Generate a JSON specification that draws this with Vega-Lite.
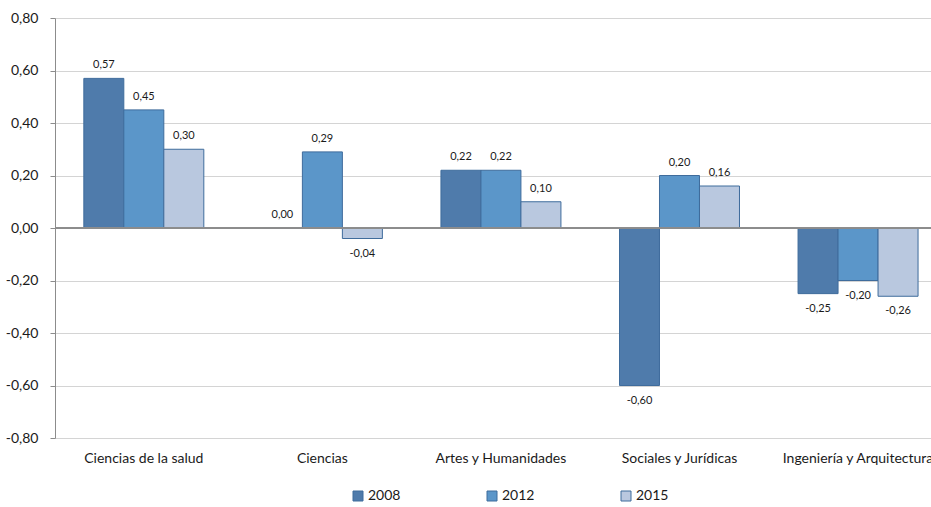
{
  "$schema": "https://vega.github.io/schema/vega-lite/v6.json",
  "width": 876,
  "height": 420,
  "autosize": {"type": "none"},
  "padding": {"left": 55, "top": 18, "right": 0, "bottom": 69},
  "background": "white",
  "config": {
    "locale": {"number": {"decimal": ",", "thousands": ".", "grouping": [3], "currency": ["", " €"], "minus": "-"}},
    "font": "Lato",
    "view": {"stroke": null},
    "axis": {"labelFont": "Lato", "labelColor": "#1a1a1a"}
  },
  "data": {
    "values": [
      {"area": "Ciencias de la salud", "year": "2008", "value": 0.57},
      {"area": "Ciencias de la salud", "year": "2012", "value": 0.45},
      {"area": "Ciencias de la salud", "year": "2015", "value": 0.30},
      {"area": "Ciencias", "year": "2008", "value": 0.00},
      {"area": "Ciencias", "year": "2012", "value": 0.29},
      {"area": "Ciencias", "year": "2015", "value": -0.04},
      {"area": "Artes y Humanidades", "year": "2008", "value": 0.22},
      {"area": "Artes y Humanidades", "year": "2012", "value": 0.22},
      {"area": "Artes y Humanidades", "year": "2015", "value": 0.10},
      {"area": "Sociales y Jurídicas", "year": "2008", "value": -0.60},
      {"area": "Sociales y Jurídicas", "year": "2012", "value": 0.20},
      {"area": "Sociales y Jurídicas", "year": "2015", "value": 0.16},
      {"area": "Ingeniería y Arquitectura", "year": "2008", "value": -0.25},
      {"area": "Ingeniería y Arquitectura", "year": "2012", "value": -0.20},
      {"area": "Ingeniería y Arquitectura", "year": "2015", "value": -0.26}
    ]
  },
  "encoding": {
    "x": {
      "field": "area", "type": "nominal", "sort": null, "title": null,
      "scale": {"paddingInner": 0.328, "paddingOuter": 0.117, "align": 0.69},
      "axis": {"labelAngle": 0, "domain": false, "ticks": false, "labelPadding": 13, "labelFontSize": 14, "labelLimit": 300, "labelOverlap": false}
    },
    "xOffset": {"field": "year", "type": "nominal", "scale": {"paddingInner": 0, "paddingOuter": 0}},
    "y": {
      "field": "value", "type": "quantitative", "title": null,
      "scale": {"domain": [-0.8, 0.8], "nice": false, "zero": false},
      "axis": {"values": [-0.8, -0.6, -0.4, -0.2, 0, 0.2, 0.4, 0.6, 0.8], "format": ".2f", "labelFontSize": 14, "gridColor": "#d4d4d4", "domainColor": "#8c8c8c", "tickColor": "#8c8c8c", "tickSize": 5, "labelPadding": 12}
    }
  },
  "layer": [
    {
      "mark": {"type": "bar", "stroke": "#3f6c9c", "strokeWidth": 1},
      "encoding": {
        "color": {
          "field": "year", "type": "nominal", "title": null,
          "scale": {"domain": ["2008", "2012", "2015"], "range": ["#4f7bab", "#5b96c9", "#b9c8df"]},
          "legend": {"orient": "none", "direction": "horizontal", "legendX": 296, "legendY": 471, "symbolType": "square", "symbolSize": 100, "symbolStrokeColor": "#3f6c9c", "symbolStrokeWidth": 1, "labelFontSize": 14, "labelFont": "Lato", "labelColor": "#1a1a1a", "columnPadding": 84, "labelOffset": 3}
        }
      }
    },
    {
      "mark": {"type": "rule", "color": "#8c8c8c", "strokeWidth": 1},
      "encoding": {"y": {"datum": 0}, "x": null, "xOffset": null}
    },
    {
      "transform": [{"filter": "datum.value >= 0"}],
      "mark": {"type": "text", "baseline": "bottom", "dy": -8, "fontSize": 11, "color": "#1a1a1a"},
      "encoding": {"text": {"field": "value", "type": "quantitative", "format": ".2f"}}
    },
    {
      "transform": [{"filter": "datum.value < 0"}],
      "mark": {"type": "text", "baseline": "top", "dy": 9, "fontSize": 11, "color": "#1a1a1a"},
      "encoding": {"text": {"field": "value", "type": "quantitative", "format": ".2f"}}
    }
  ]
}
